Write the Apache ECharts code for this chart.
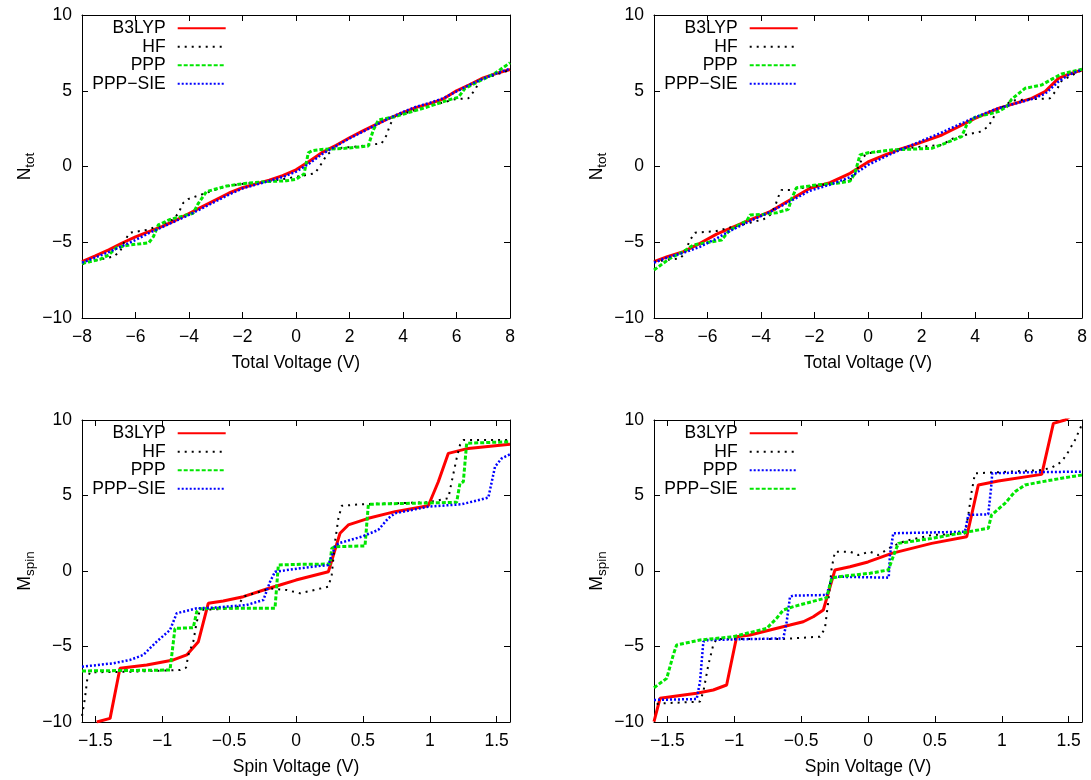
<!DOCTYPE html>
<html>
<head>
<meta charset="utf-8">
<script src="https://cdn.jsdelivr.net/npm/echarts@6/dist/echarts.min.js"></script>
<style>html,body{margin:0;padding:0;background:#fff}#c{width:1091px;height:780px}</style>
</head>
<body>
<div id="c"></div>
<script>
// ---------- data ----------
const totalVoltageTicks = [-8, -6, -4, -2, 0, 2, 4, 6, 8];
const spinVoltageTicks = [-1.5, -1, -0.5, 0, 0.5, 1, 1.5];
const yTicks = [-10, -5, 0, 5, 10];
const methodNames = ['B3LYP', 'HF', 'PPP', 'PPP−SIE'];

// Top-left: N_tot vs total voltage
const tlB3LYP = [[-8,-6.28],[-7.5,-5.9],[-7,-5.5],[-6.5,-5.05],[-6,-4.65],[-5.5,-4.3],[-5,-3.95],[-4.5,-3.55],[-4,-3.1],[-3.5,-2.65],[-3,-2.2],[-2.5,-1.75],[-2,-1.4],[-1.5,-1.15],[-1,-0.9],[-0.5,-0.6],[0,-0.22],[0.5,0.35],[1,0.95],[1.5,1.4],[2,1.9],[2.5,2.35],[3,2.78],[3.5,3.2],[4,3.55],[4.5,3.9],[5,4.15],[5.5,4.45],[6,5.0],[6.5,5.4],[7,5.85],[7.5,6.15],[8,6.4]];
const tlHF = [[-8,-6.45],[-7.5,-6.2],[-6.83,-5.95],[-6.58,-5.62],[-6.39,-4.85],[-6.21,-4.37],[-5.58,-4.19],[-5.21,-3.97],[-4.59,-3.49],[-4.4,-3.09],[-4.21,-2.39],[-4.03,-2.15],[-3.59,-1.88],[-2.59,-1.29],[-1.84,-1.11],[-1.1,-1.0],[-0.04,-0.7],[0.71,-0.45],[0.96,0.21],[1.15,0.76],[1.46,1.2],[2.21,1.31],[3.2,1.53],[3.39,2.08],[3.51,2.74],[3.7,3.33],[4.7,3.84],[5.94,4.44],[6.44,4.5],[6.69,5.05],[6.88,5.71],[7.44,6.04],[8,6.37]];
const tlPPP = [[-8,-6.4],[-7.33,-6.13],[-7.0,-5.84],[-6.7,-5.34],[-6.2,-5.18],[-5.5,-5.03],[-5.33,-4.63],[-5.15,-3.86],[-4.7,-3.49],[-3.85,-3.09],[-3.65,-2.43],[-3.35,-1.66],[-2.6,-1.29],[-1.85,-1.11],[-1.1,-1.0],[-0.35,-0.94],[0.0,-0.85],[0.3,-0.5],[0.46,0.9],[0.6,1.04],[0.96,1.13],[1.83,1.2],[2.7,1.35],[2.89,2.41],[3.08,3.07],[3.7,3.29],[4.95,3.95],[5.7,4.39],[6.07,4.57],[6.32,5.16],[6.69,5.49],[7.44,6.15],[8,6.85]];
const tlPPPSIE = [[-8,-6.35],[-7.5,-6.0],[-7,-5.65],[-6.5,-5.25],[-6,-4.85],[-5.5,-4.4],[-5,-4.0],[-4.5,-3.6],[-4,-3.2],[-3.5,-2.75],[-3,-2.3],[-2.5,-1.85],[-2,-1.45],[-1.5,-1.2],[-1,-0.95],[-0.5,-0.7],[0,-0.35],[0.5,0.2],[1,0.85],[1.5,1.35],[2,1.85],[2.5,2.3],[3,2.75],[3.5,3.2],[4,3.6],[4.5,3.95],[5,4.2],[5.5,4.5],[6,4.95],[6.5,5.4],[7,5.8],[7.5,6.15],[8,6.45]];

// Top-right: N_tot vs total voltage
const trB3LYP = [[-8,-6.28],[-7.5,-5.95],[-6.9,-5.62],[-6.28,-5.07],[-5.66,-4.46],[-5.16,-4.08],[-4.41,-3.53],[-3.66,-2.98],[-2.92,-2.21],[-2.17,-1.44],[-1.42,-1.07],[-0.67,-0.45],[0,0.3],[0.64,0.76],[1.2,1.15],[1.88,1.53],[2.76,2.08],[3.63,2.85],[4.0,3.18],[4.87,3.84],[5.5,4.17],[6.12,4.5],[6.62,4.94],[7.12,5.82],[7.5,6.1],[8,6.37]];
const trHF = [[-8,-6.28],[-7.03,-6.06],[-6.9,-5.84],[-6.65,-4.85],[-6.47,-4.37],[-5.66,-4.26],[-5.03,-3.97],[-4.41,-3.71],[-3.91,-3.49],[-3.66,-3.2],[-3.48,-2.65],[-3.35,-1.99],[-3.23,-1.55],[-2.92,-1.55],[-2.17,-1.33],[-1.17,-1.07],[-0.55,-0.78],[-0.36,0.0],[-0.18,0.65],[0.01,0.87],[1.01,1.13],[2.0,1.31],[2.76,1.42],[3.19,1.86],[3.63,2.08],[4.19,2.3],[4.5,2.63],[4.81,3.62],[5.37,4.35],[6.12,4.44],[6.8,4.5],[7.05,5.05],[7.24,5.66],[8,6.37]];
const trPPP = [[-8,-6.83],[-7.4,-6.06],[-6.9,-5.62],[-6.53,-5.18],[-6.16,-5.07],[-5.47,-4.85],[-5.22,-4.3],[-4.91,-3.93],[-4.53,-3.58],[-4.41,-3.2],[-3.91,-3.16],[-3.41,-3.05],[-2.98,-2.83],[-2.85,-2.1],[-2.67,-1.4],[-1.92,-1.22],[-1.17,-1.11],[-0.67,-0.96],[-0.49,-0.45],[-0.3,0.76],[0.01,0.91],[0.88,1.09],[2.38,1.2],[2.88,1.53],[3.5,1.97],[3.69,2.74],[4.0,3.25],[4.87,3.62],[5.19,3.95],[5.37,4.44],[5.87,5.16],[6.49,5.38],[6.93,5.82],[7.24,6.11],[8,6.42]];
const trPPPSIE = [[-8,-6.35],[-7.5,-6.0],[-6.9,-5.7],[-6.28,-5.3],[-5.66,-4.75],[-5.16,-4.25],[-4.41,-3.6],[-3.66,-3.0],[-2.92,-2.3],[-2.17,-1.6],[-1.42,-1.2],[-0.67,-0.7],[0,0.1],[0.64,0.65],[1.2,1.1],[1.88,1.6],[2.76,2.25],[3.63,2.95],[4.0,3.25],[4.87,3.85],[5.5,4.15],[6.12,4.45],[6.62,4.8],[7.12,5.6],[7.5,6.05],[8,6.4]];

// Bottom-left: M_spin vs spin voltage
const blB3LYP = [[-1.49,-10.0],[-1.39,-9.76],[-1.316,-6.44],[-1.116,-6.23],[-0.917,-5.89],[-0.817,-5.56],[-0.73,-4.68],[-0.656,-2.14],[-0.544,-1.99],[-0.394,-1.7],[-0.219,-1.19],[-0.12,-0.93],[0.0,-0.6],[0.242,-0.05],[0.329,2.5],[0.391,3.05],[0.541,3.49],[0.74,3.93],[0.989,4.32],[1.064,5.91],[1.139,7.79],[1.288,8.12],[1.6,8.39]];
const blHF = [[-1.6,-9.6],[-1.578,-8.43],[-1.56,-7.11],[-1.54,-6.71],[-1.241,-6.67],[-0.867,-6.56],[-0.822,-6.4],[-0.805,-5.56],[-0.768,-4.68],[-0.742,-3.36],[-0.718,-2.58],[-0.443,-2.47],[-0.394,-1.7],[-0.269,-1.37],[-0.194,-1.15],[-0.07,-1.26],[0.03,-1.48],[0.242,-1.04],[0.267,-0.26],[0.292,1.94],[0.317,3.49],[0.342,4.32],[0.491,4.42],[0.989,4.55],[1.139,4.82],[1.164,5.91],[1.201,7.46],[1.226,8.34],[1.251,8.68],[1.6,8.68]];
const blPPP = [[-1.6,-6.62],[-0.942,-6.56],[-0.905,-3.8],[-0.768,-3.75],[-0.742,-2.69],[-0.72,-2.5],[-0.568,-2.47],[-0.157,-2.47],[-0.132,0.4],[0.03,0.44],[0.254,0.46],[0.267,1.5],[0.292,1.61],[0.516,1.66],[0.541,4.42],[1.201,4.55],[1.226,5.81],[1.251,5.91],[1.276,8.46],[1.6,8.56]];
const blPPPSIE = [[-1.6,-6.34],[-1.366,-6.11],[-1.241,-5.89],[-1.142,-5.56],[-1.042,-4.68],[-0.942,-3.91],[-0.892,-2.8],[-0.742,-2.47],[-0.618,-2.43],[-0.369,-2.25],[-0.244,-1.92],[-0.194,-0.71],[-0.157,-0.05],[0.03,0.18],[0.242,0.4],[0.292,1.61],[0.317,1.83],[0.491,2.27],[0.615,2.72],[0.69,3.49],[0.74,3.82],[0.989,4.26],[1.239,4.42],[1.438,4.86],[1.488,6.91],[1.538,7.46],[1.6,7.73]];

// Bottom-right: M_spin vs spin voltage (PPP drawn blue, PPP-SIE green here)
const brB3LYP = [[-1.6,-9.98],[-1.555,-8.43],[-1.281,-8.1],[-1.157,-7.88],[-1.057,-7.55],[-0.982,-4.35],[-0.882,-4.24],[-0.733,-3.91],[-0.583,-3.58],[-0.484,-3.36],[-0.409,-3.03],[-0.334,-2.58],[-0.247,0.07],[-0.135,0.28],[0.0,0.6],[0.177,1.17],[0.476,1.83],[0.738,2.27],[0.825,5.7],[0.974,5.96],[1.299,6.4],[1.386,9.78],[1.473,10.0],[1.6,10.8]];
const brHF = [[-1.58,-8.8],[-1.53,-8.76],[-1.256,-8.65],[-1.231,-7.99],[-1.194,-6.23],[-1.157,-4.9],[-1.132,-4.5],[-0.633,-4.5],[-0.359,-4.35],[-0.322,-3.8],[-0.297,-2.03],[-0.272,0.18],[-0.247,1.28],[-0.135,1.28],[-0.072,1.06],[0.015,1.28],[0.077,1.06],[0.177,1.61],[0.277,1.99],[0.476,2.38],[0.725,2.49],[0.75,3.71],[0.775,5.25],[0.8,6.47],[0.974,6.54],[1.299,6.69],[1.373,6.84],[1.448,7.24],[1.498,7.9],[1.548,8.68],[1.598,9.67]];
const brPPP = [[-1.6,-8.54],[-1.281,-8.48],[-1.256,-7.33],[-1.231,-4.68],[-1.194,-4.57],[-0.633,-4.46],[-0.608,-3.36],[-0.583,-1.7],[-0.558,-1.63],[-0.309,-1.59],[-0.272,-0.48],[-0.234,-0.38],[0.155,-0.44],[0.164,1.06],[0.189,2.5],[0.725,2.6],[0.75,3.71],[0.899,3.75],[0.92,5.48],[0.929,6.47],[1.224,6.54],[1.6,6.58]];
const brPPPSIE = [[-1.6,-7.73],[-1.505,-7.11],[-1.456,-5.56],[-1.431,-4.9],[-1.256,-4.57],[-1.007,-4.35],[-0.757,-3.8],[-0.683,-3.13],[-0.633,-2.58],[-0.558,-2.36],[-0.309,-1.77],[-0.272,-0.48],[-0.222,-0.38],[0.015,-0.15],[0.152,0.07],[0.202,1.28],[0.227,1.83],[0.476,2.16],[0.725,2.56],[0.899,2.83],[0.924,3.71],[1.024,4.48],[1.099,5.25],[1.174,5.7],[1.299,5.91],[1.473,6.18],[1.6,6.36]];

// ---------- styles ----------
const FONT = '"Liberation Sans", Arial, Helvetica, sans-serif';
const FS = 17.5;
const RED = {color: '#ff0000', width: 3, type: 'solid'};
const BLACK = {color: '#000000', width: 2, type: [2, 5]};
const GREEN = {color: '#00e600', width: 3, type: [4, 2]};
const BLUE = {color: '#0000ff', width: 2.5, type: [2, 2]};

const panels = [
  {key: 'tl', grid: {left: 82, top: 15, width: 428, height: 303}, spin: false,
   data: [tlB3LYP, tlHF, tlPPP, tlPPPSIE], styles: [RED, BLACK, GREEN, BLUE]},
  {key: 'tr', grid: {left: 654, top: 15, width: 428, height: 303}, spin: false,
   data: [trB3LYP, trHF, trPPP, trPPPSIE], styles: [RED, BLACK, GREEN, BLUE]},
  {key: 'bl', grid: {left: 82, top: 420, width: 428, height: 302}, spin: true,
   data: [blB3LYP, blHF, blPPP, blPPPSIE], styles: [RED, BLACK, GREEN, BLUE]},
  {key: 'br', grid: {left: 654, top: 420, width: 428, height: 302}, spin: true,
   data: [brB3LYP, brHF, brPPP, brPPPSIE], styles: [RED, BLACK, BLUE, GREEN]}
];

const fmt = v => (v < 0 ? '−' + Math.abs(v) : String(v));
const txt = {fontFamily: FONT, fontSize: FS, color: '#000'};

const grid = [], xAxis = [], yAxis = [], series = [], legend = [];
panels.forEach((p, i) => {
  grid.push(Object.assign({show: false}, p.grid));
  const xr = p.spin ? {min: -1.6, max: 1.6} : {min: -8, max: 8, interval: 2};
  const xTicks = p.spin ? spinVoltageTicks : totalVoltageTicks;
  const lineS = {show: true, onZero: false, lineStyle: {color: '#000', width: 1}};
  const tickS = {show: true, inside: true, length: 6, lineStyle: {color: '#000', width: 1}, customValues: xTicks};
  xAxis.push(Object.assign({
    type: 'value', gridIndex: i, position: 'bottom',
    axisLine: lineS, axisTick: tickS,
    axisLabel: Object.assign({margin: 10, formatter: fmt, customValues: xTicks}, txt),
    splitLine: {show: false},
    name: p.spin ? 'Spin Voltage (V)' : 'Total Voltage (V)',
    nameLocation: 'middle', nameGap: 36, nameTextStyle: txt
  }, xr));
  xAxis.push(Object.assign({
    type: 'value', gridIndex: i, position: 'top',
    axisLine: lineS, axisTick: tickS, axisLabel: {show: false}, splitLine: {show: false}
  }, xr));
  const yTickS = {show: true, inside: true, length: 6, lineStyle: {color: '#000', width: 1}, customValues: yTicks};
  yAxis.push({
    type: 'value', gridIndex: i, position: 'left', min: -10, max: 10, interval: 5,
    axisLine: lineS, axisTick: yTickS,
    axisLabel: Object.assign({margin: 10, formatter: fmt, customValues: yTicks}, txt),
    splitLine: {show: false},
    name: p.spin ? '{n|M}{s|spin}' : '{n|N}{s|tot}',
    nameLocation: 'middle', nameRotate: 90, nameGap: 48,
    nameTextStyle: {fontFamily: FONT, color: '#000', rich: {
      n: {fontFamily: FONT, fontSize: FS, color: '#000', lineHeight: 18, verticalAlign: 'top'},
      s: {fontFamily: FONT, fontSize: 13.5, color: '#000', lineHeight: 14, padding: [11.5, 0, 0, 0]}
    }}
  });
  yAxis.push({
    type: 'value', gridIndex: i, position: 'right', min: -10, max: 10, interval: 5,
    axisLine: lineS, axisTick: yTickS, axisLabel: {show: false}, splitLine: {show: false}
  });
  const names = methodNames.map(n => n + '@' + p.key);
  p.data.forEach((d, k) => {
    const st = p.styles[k];
    series.push({
      type: 'line', name: names[k], xAxisIndex: 2 * i, yAxisIndex: 2 * i,
      data: d, symbol: 'none', showSymbol: false, smooth: false, clip: true,
      color: st.color,
      lineStyle: {color: st.color, width: st.width, type: st.type, cap: 'butt'},
      emphasis: {disabled: true}, silent: true
    });
  });
  legend.push({
    data: names, orient: 'vertical', align: 'right',
    right: 1091 - (p.grid.left + 144.7), top: p.grid.top + 4.3,
    padding: 0, itemWidth: 48, itemHeight: 10, itemGap: 0.5,
    selectedMode: false,
    formatter: n => n.split('@')[0],
    itemStyle: {opacity: 0},
    textStyle: {fontFamily: FONT, fontSize: FS, color: '#000', lineHeight: 18, padding: [0, 7, 0, 0]}
  });
});

const chart = echarts.init(document.getElementById('c'), null, {renderer: 'canvas'});
chart.setOption({
  backgroundColor: '#fff', animation: false,
  grid, xAxis, yAxis, series, legend
});
</script>
</body>
</html>
